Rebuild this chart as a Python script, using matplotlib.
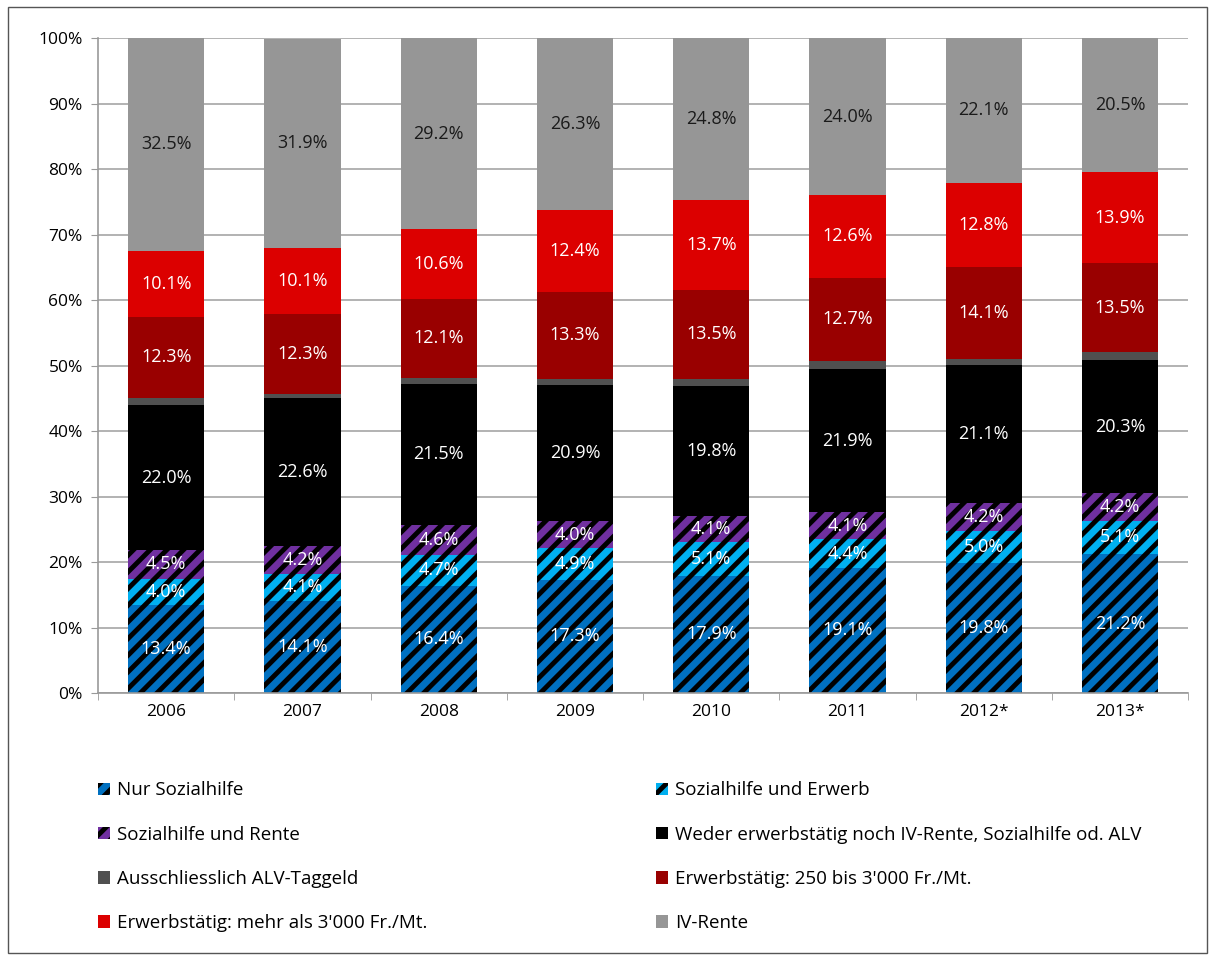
import numpy as np
import matplotlib
matplotlib.use("Agg")
import matplotlib.pyplot as plt
from matplotlib.patches import Rectangle, Patch

plt.rcParams["font.family"] = ["Open Sans", "DejaVu Sans"]
plt.rcParams["hatch.linewidth"] = 3.5

years = ["2006", "2007", "2008", "2009", "2010", "2011", "2012*", "2013*"]

nur_sozialhilfe = [13.4, 14.1, 16.4, 17.3, 17.9, 19.1, 19.8, 21.2]
sozialhilfe_erwerb = [4.0, 4.1, 4.7, 4.9, 5.1, 4.4, 5.0, 5.1]
sozialhilfe_rente = [4.5, 4.2, 4.6, 4.0, 4.1, 4.1, 4.2, 4.2]
weder = [22.0, 22.6, 21.5, 20.9, 19.8, 21.9, 21.1, 20.3]
alv_taggeld = [1.2, 0.6, 0.9, 0.9, 1.1, 1.2, 0.9, 1.3]
erwerb_250_3000 = [12.3, 12.3, 12.1, 13.3, 13.5, 12.7, 14.1, 13.5]
erwerb_ueber_3000 = [10.1, 10.1, 10.6, 12.4, 13.7, 12.6, 12.8, 13.9]
iv_rente = [32.5, 31.9, 29.2, 26.3, 24.8, 24.0, 22.1, 20.5]

labels = ["Nur Sozialhilfe", "Sozialhilfe und Erwerb", "Sozialhilfe und Rente",
          "Weder erwerbstätig noch IV-Rente, Sozialhilfe od. ALV",
          "Ausschliesslich ALV-Taggeld", "Erwerbstätig: 250 bis 3'000 Fr./Mt.",
          "Erwerbstätig: mehr als 3'000 Fr./Mt.", "IV-Rente"]

series = [nur_sozialhilfe, sozialhilfe_erwerb, sozialhilfe_rente, weder,
          alv_taggeld, erwerb_250_3000, erwerb_ueber_3000, iv_rente]
colors = ["#0070C0", "#00B0F0", "#7030A0", "#000000",
          "#505050", "#990000", "#DC0000", "#969696"]
hatches = ["//", "//", "//", None, None, None, None, None]
show_label = [True, True, True, True, False, True, True, True]
text_colors = ["white"] * 7 + ["#1a1a1a"]

fig = plt.figure(figsize=(12.15, 9.58), dpi=100)
ax = fig.add_axes([0.0807, 0.2766, 0.8973, 0.6837])

x = np.arange(len(years))
bottom = np.zeros(len(years))
handles = []
for vals, lab, c, h, show, tc in zip(series, labels, colors, hatches, show_label, text_colors):
    vals = np.array(vals)
    if h:
        ax.bar(x, vals, 0.56, bottom=bottom, color=c, edgecolor="black",
               hatch=h, linewidth=0, zorder=2)
    else:
        ax.bar(x, vals, 0.56, bottom=bottom, color=c, linewidth=0, zorder=2)
    if show:
        for xi, b, v in zip(x, bottom, vals):
            ax.text(xi, b + v / 2, f"{v:.1f}%", ha="center", va="center",
                    color=tc, fontsize=13, zorder=3)
    handles.append(Patch(facecolor=c, edgecolor="black" if h else c,
                         hatch="//" if h else None, linewidth=0))
    bottom += vals

ax.set_xlim(-0.5, len(years) - 0.5)
ax.set_ylim(0, 100)
ax.set_yticks(np.arange(0, 101, 10))
ax.set_yticklabels([f"{v}%" for v in range(0, 101, 10)])
ax.set_xticks(x)
ax.set_xticklabels(years)
ax.set_xticks(np.arange(-0.5, len(years), 1), minor=True)
ax.tick_params(axis="x", which="major", length=0, pad=8, labelsize=12.5)
ax.tick_params(axis="x", which="minor", length=5, color="#999999")
ax.tick_params(axis="y", length=5, color="#999999", labelsize=12.5, pad=6)
ax.yaxis.grid(True, color="#a6a6a6", lw=1.2, zorder=0)
ax.set_axisbelow(True)
for s in ["top", "right"]:
    ax.spines[s].set_visible(False)
for s in ["left", "bottom"]:
    ax.spines[s].set_color("#999999")
    ax.spines[s].set_linewidth(1.2)

# legend: row-major order in two columns
order = [0, 2, 4, 6, 1, 3, 5, 7]
fig.legend([handles[i] for i in order], [labels[i] for i in order],
           loc="upper left", bbox_to_anchor=(0.067, 0.202), ncol=2, frameon=False,
           fontsize=13.5, handlelength=0.65, handleheight=0.65, handletextpad=0.35,
           labelspacing=1.4, columnspacing=12.2)

fig.patches.append(Rectangle((8 / 1215, 5 / 958), 1199 / 1215, 946 / 958,
                             transform=fig.transFigure, fill=False,
                             edgecolor="#555555", lw=1.0))

fig.savefig("out.png", dpi=100)
